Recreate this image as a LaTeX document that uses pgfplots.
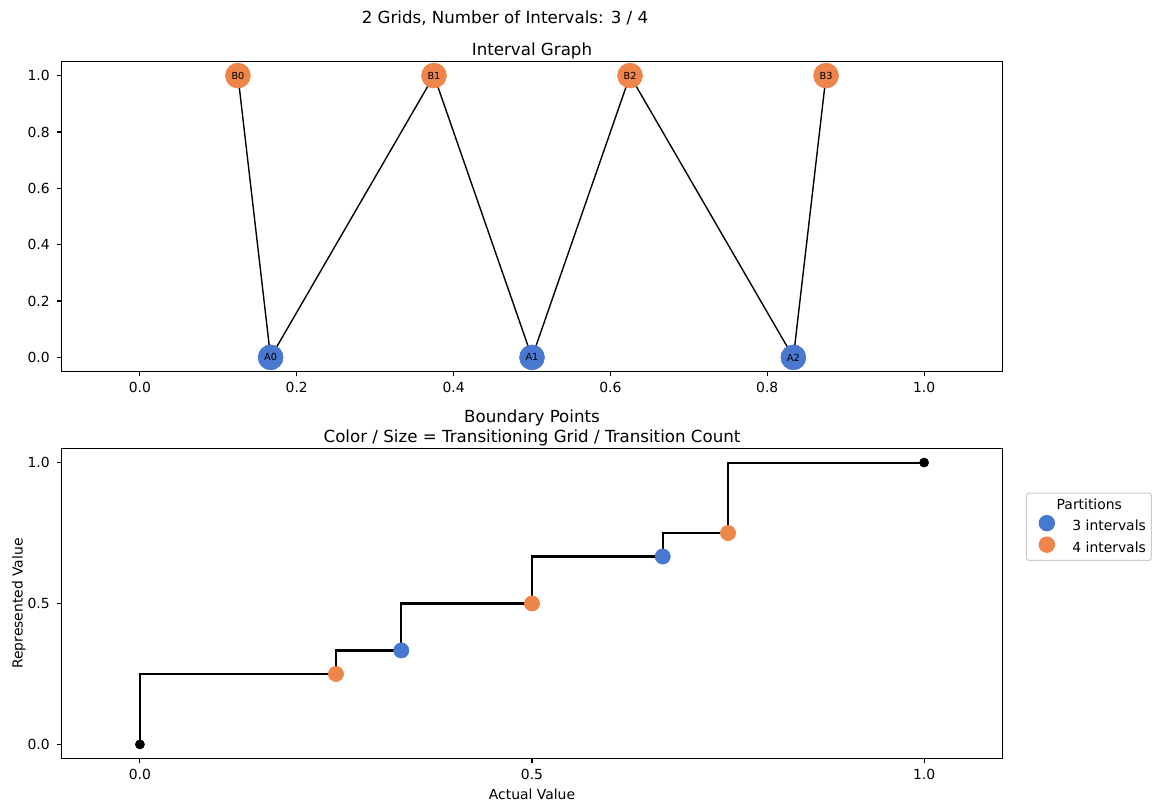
\documentclass[border=0pt]{standalone}
\usepackage{fontspec}
\setmainfont{DejaVu Sans}
\usepackage{pgfplots}
\pgfplotsset{compat=1.18}
\pgfkeys{/pgf/number format/assume math mode=true}

\definecolor{gridA}{HTML}{4878D0}
\definecolor{gridB}{HTML}{EE854A}
\definecolor{legframe}{HTML}{CCCCCC}

% edges of the interval graph (B0-A0-B1-A1-B2-A2-B3)
\pgfplotstableread{
x        y
0.125    1
0.166667 0
0.375    1
0.5      0
0.625    1
0.833333 0
0.875    1
}\edgetable

\pgfplotstableread{
x        y label
0.166667 0 A0
0.5      0 A1
0.833333 0 A2
}\nodesA

\pgfplotstableread{
x     y label
0.125 1 B0
0.375 1 B1
0.625 1 B2
0.875 1 B3
}\nodesB

% represented value as a step function of the actual value
\pgfplotstableread{
x        y
0        0
0        0.25
0.25     0.25
0.25     0.333333
0.333333 0.333333
0.333333 0.5
0.5      0.5
0.5      0.666667
0.666667 0.666667
0.666667 0.75
0.75     0.75
0.75     1
1        1
}\steptable

\pgfplotstableread{
x        y
0.333333 0.333333
0.666667 0.666667
}\boundA

\pgfplotstableread{
x    y
0.25 0.25
0.5  0.5
0.75 0.75
}\boundB

\pgfplotstableread{
x y
0 0
1 1
}\endpoints

\pgfplotsset{
  panel/.style={
    scale only axis, width=677.52pt, height=223.2pt,
    anchor=south west,
    xmin=-0.1, xmax=1.1, ymin=-0.05, ymax=1.05,
    axis line style={line width=0.8pt},
    tick align=outside,
    major tick length=3.5pt,
    every tick/.style={line width=0.8pt, black},
    xtick pos=left, ytick pos=left,
    ticklabel style={font=\fontsize{10}{12}\selectfont},
    xticklabel style={inner sep=0pt, anchor=base, yshift=-11.8pt,
      /pgf/number format/.cd, fixed, fixed zerofill, precision=1},
    yticklabel style={inner sep=0pt, anchor=east, xshift=-4.8pt,
      /pgf/number format/.cd, fixed, fixed zerofill, precision=1},
    title style={font=\fontsize{12}{14.4}\selectfont, inner sep=0pt,
      at={(0.5,1)}, anchor=south, yshift=-4.7pt, align=center},
    label style={font=\fontsize{10}{12}\selectfont, inner sep=0pt},
  },
}

\begin{document}
\begin{tikzpicture}
\useasboundingbox (0,0) rectangle (833.76pt,583.92pt);

\node[font=\fontsize{12}{14.4}\selectfont, anchor=base, inner sep=0pt]
  at (363.6pt,567pt) {2 Grids, Number of Intervals: 3 / 4};

% ---- interval graph ----
\begin{axis}[panel, at={(44.28pt,316.44pt)},
  title={Interval Graph},
  xtick={0,0.2,0.4,0.6,0.8,1.0},
  ytick={0,0.2,0.4,0.6,0.8,1.0},
  nodes near coords, point meta=explicit symbolic,
  nodes near coords align={center},
  every node near coord/.append style={anchor=center, inner sep=0pt,
    text=black, font=\fontsize{7}{8}\selectfont},
]
\addplot[black, line width=1pt, no marks, nodes near coords=] table {\edgetable};
\addplot[only marks, mark=*, mark size=9pt, color=gridA]
  table[meta=label] {\nodesA};
\addplot[only marks, mark=*, mark size=9pt, color=gridB]
  table[meta=label] {\nodesB};
\end{axis}

% ---- boundary points ----
\begin{axis}[panel, at={(44.28pt,37.8pt)},
  title={Boundary Points\\Color / Size = Transitioning Grid / Transition Count},
  xtick={0,0.5,1.0}, ytick={0,0.5,1.0},
  xlabel={Actual Value}, ylabel={Represented Value},
  xlabel style={at={(axis description cs:0.5,-0.1324)}, anchor=base},
  ylabel style={at={(axis description cs:-0.0412,0.5)}, anchor=base},
  legend style={at={(axis description cs:1.0247,0.858)}, anchor=north west,
    draw=legframe, line width=0.8pt, rounded corners=2pt,
    font=\fontsize{10}{12}\selectfont,
    inner xsep=4pt, inner ysep=4pt, row sep=6pt,
    nodes={inner sep=0pt, text height=7.5pt, text depth=2pt},
    legend cell align=left},
  legend image code/.code={%
    \path (0pt,0pt) (28.4pt,0pt);
    \draw[#1, only marks, overlay] plot coordinates {(10.4pt,2.6pt)};},
]
\addplot[black, line width=1.5pt, no marks, forget plot] table {\steptable};
\addplot[only marks, mark=*, mark size=3.3pt, black, forget plot] table {\endpoints};
\addlegendimage{empty legend}
\addlegendentry{\hspace*{-11.3pt}Partitions}
\addplot[only marks, mark=*, mark size=5.5pt, color=gridA] table {\boundA};
\addlegendentry{3 intervals}
\addplot[only marks, mark=*, mark size=5.5pt, color=gridB] table {\boundB};
\addlegendentry{4 intervals}
\end{axis}
\end{tikzpicture}
\end{document}
